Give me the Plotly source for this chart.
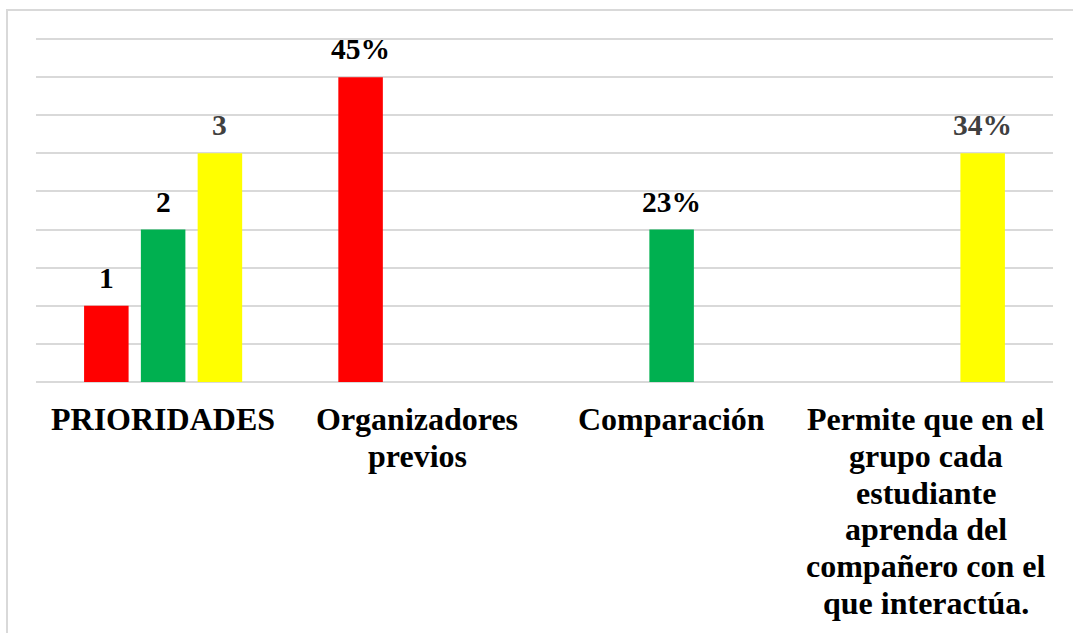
import plotly.graph_objects as go

categories = [
    "PRIORIDADES",
    "Organizadores previos",
    "Comparación",
    "Permite que en el grupo cada estudiante aprenda del compañero con el que interactúa.",
]
# category labels, one entry per printed line
tick_lines = [
    ["PRIORIDADES"],
    ["Organizadores", "previos"],
    ["Comparación"],
    ["Permite que en el", "grupo cada", "estudiante", "aprenda del", "compañero con el", "que interactúa."],
]

red_values = [1, 4, None, None]
green_values = [2, None, 2, None]
yellow_values = [3, None, None, 3]

red_labels = ["1", "45%", "", ""]
green_labels = ["2", "", "23%", ""]
yellow_labels = ["3", "", "", "34%"]

series = [
    ("red", red_values, red_labels, "#FF0000", "#000000"),
    ("green", green_values, green_labels, "#00B050", "#000000"),
    ("yellow", yellow_values, yellow_labels, "#FFFF00", "#404040"),
]

W, H = 1073, 633
# the top of the y range sits a few px above the last gridline so plotly keeps drawing it
Y_TOP = 4.54
MARGIN = dict(l=36, r=20, t=36, b=251)
BARGAP = 0.33
FONT = "Liberation Serif"
TICK_SIZE = 32
TICK_LINE = 36.8

fig = go.Figure()
for name, values, labels, color, _ in series:
    fig.add_trace(
        go.Bar(
            x=categories,
            y=values,
            name=name,
            marker=dict(color=color, line=dict(width=0)),
            hoverinfo="skip",
        )
    )

plot_w = W - MARGIN["l"] - MARGIN["r"]
plot_h = H - MARGIN["t"] - MARGIN["b"]
slot = plot_w / len(categories) * (1 - BARGAP) / len(series)

annotations = []
# data labels, a little higher than plotly's own "outside" text
for i, (name, values, labels, _, text_color) in enumerate(series):
    for cat, val, lab in zip(categories, values, labels):
        if val is None or not lab:
            continue
        annotations.append(
            dict(
                x=cat,
                y=val,
                xref="x",
                yref="y",
                text=f"<b>{lab}</b>",
                showarrow=False,
                xshift=(i - 1) * slot,
                yshift=10,
                yanchor="bottom",
                font=dict(family=FONT, size=29.5, color=text_color),
            )
        )

# category labels with tighter line spacing than plotly's tick labels
for cat, lines in zip(categories, tick_lines):
    for k, line in enumerate(lines):
        annotations.append(
            dict(
                x=cat,
                y=0,
                xref="x",
                yref="paper",
                text=f"<b>{line}</b>",
                showarrow=False,
                yanchor="top",
                yshift=-17 - k * TICK_LINE,
                font=dict(family=FONT, size=TICK_SIZE, color="#000000"),
            )
        )

# light frame round the chart (right and bottom edges fall outside the picture)
border = dict(
    type="rect",
    xref="paper",
    yref="paper",
    x0=(7 - MARGIN["l"]) / plot_w,
    x1=(W + 10 - MARGIN["l"]) / plot_w,
    y0=-(MARGIN["b"] + 10) / plot_h,
    y1=(plot_h + MARGIN["t"] - 10) / plot_h,
    line=dict(color="#D9D9D9", width=2),
    layer="below",
)

fig.update_layout(
    width=W,
    height=H,
    margin=MARGIN,
    barmode="group",
    bargap=BARGAP,
    bargroupgap=0.216,
    showlegend=False,
    plot_bgcolor="white",
    paper_bgcolor="white",
    annotations=annotations,
    shapes=[border],
    xaxis=dict(
        showticklabels=False,
        showline=False,
        ticks="",
    ),
    yaxis=dict(
        range=[0, Y_TOP],
        tick0=0,
        dtick=0.5,
        showticklabels=False,
        showgrid=True,
        gridcolor="#D9D9D9",
        gridwidth=1.5,
        zeroline=True,
        zerolinecolor="#D9D9D9",
        zerolinewidth=1.5,
    ),
)

fig.write_html(
    "out.html",
    config={"displayModeBar": False},
    post_script="document.body.style.margin = '0';",
)
